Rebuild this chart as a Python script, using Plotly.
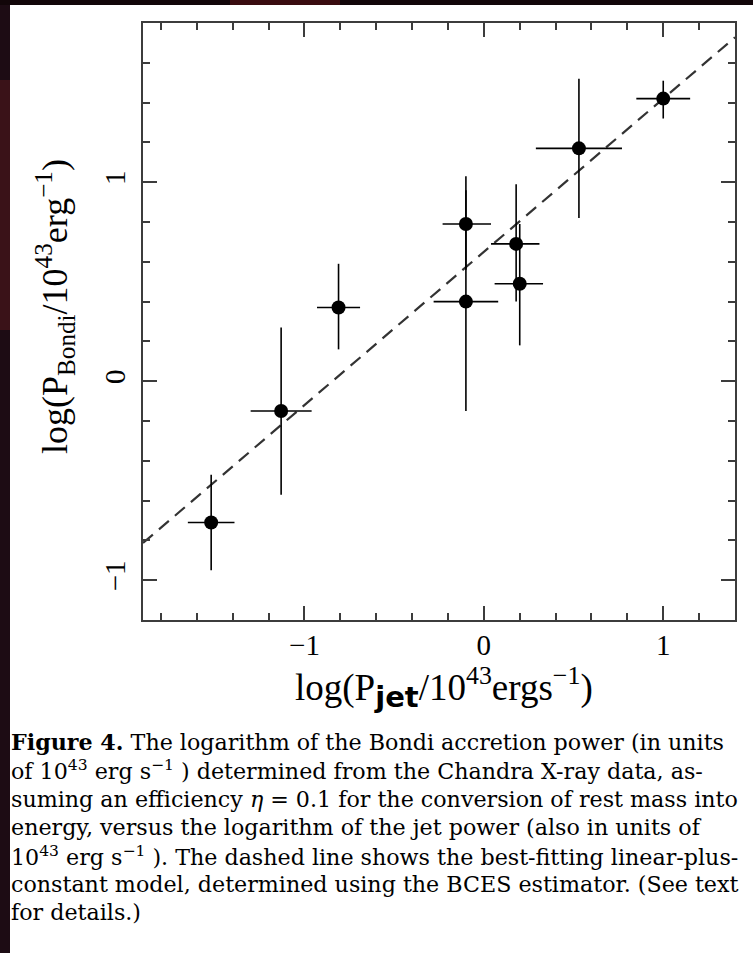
import plotly.graph_objects as go

# ---- data ----
log_pjet = [-1.52, -1.13, -0.81, -0.10, -0.10, 0.18, 0.20, 0.53, 1.00]
log_pbondi = [-0.71, -0.15, 0.37, 0.40, 0.79, 0.69, 0.49, 1.17, 1.42]
pjet_err_minus = [0.13, 0.17, 0.12, 0.18, 0.13, 0.14, 0.14, 0.24, 0.15]
pjet_err_plus = [0.13, 0.17, 0.12, 0.18, 0.14, 0.13, 0.13, 0.24, 0.15]
pbondi_err_minus = [0.24, 0.42, 0.21, 0.55, 0.23, 0.29, 0.31, 0.35, 0.10]
pbondi_err_plus = [0.24, 0.42, 0.22, 0.56, 0.24, 0.30, 0.30, 0.35, 0.09]

fit_intercept = 0.65
fit_slope = 0.77

x_range = [-1.9, 1.4]
y_range = [-1.2, 1.8]
x_tick_vals = [-1, 0, 1]
y_tick_vals = [-1, 0, 1]

x_title = ("log(P<sub><span style=\"font-family:DejaVu Sans;font-weight:bold;font-size:29px\">jet</span></sub>"
           "/10<sup>43</sup>ergs<sup>\u22121</sup>)")
y_title = "log(P<sub>Bondi</sub>/10<sup>43</sup>erg<sup>\u22121</sup>)"

caption_lines = [
    "<b>Figure 4.</b> The logarithm of the Bondi accretion power (in units",
    "of 10<sup>43</sup> erg s<sup>\u22121</sup> ) determined from the Chandra X-ray data, as-",
    "suming an efficiency <i>\u03b7</i> = 0.1 for the conversion of rest mass into",
    "energy, versus the logarithm of the jet power (also in units of",
    "10<sup>43</sup> erg s<sup>\u22121</sup> ). The dashed line shows the best-fitting linear-plus-",
    "constant model, determined using the BCES estimator. (See text",
    "for details.)",
]

# ---- geometry (pixels) ----
W, H = 753, 953
L, R, T, B = 143, 735, 23, 620
PW, PH = R - L, B - T


def px_x(px):
    return (px - L) / PW


def px_y(py):
    return (B - py) / PH


SERIF = "Liberation Serif, Times New Roman, serif"
CAPFONT = "DejaVu Serif, serif"
INK = "#000000"
AXC = "#3c3c3c"

fig = go.Figure()

fit_x = x_range
fit_y = [fit_intercept + fit_slope * v for v in fit_x]
fig.add_trace(go.Scatter(
    x=fit_x, y=fit_y, mode="lines",
    line=dict(color="#333333", width=2.2, dash="13px,8px"),
    hoverinfo="skip", showlegend=False,
))

fig.add_trace(go.Scatter(
    x=log_pjet, y=log_pbondi, mode="markers",
    marker=dict(color=INK, size=14),
    error_x=dict(type="data", symmetric=False, array=pjet_err_plus,
                 arrayminus=pjet_err_minus, color=INK, thickness=1.6, width=0),
    error_y=dict(type="data", symmetric=False, array=pbondi_err_plus,
                 arrayminus=pbondi_err_minus, color=INK, thickness=1.6, width=0),
    showlegend=False,
))

axis_common = dict(
    showgrid=False, zeroline=False, showline=True, linecolor=AXC, linewidth=1.6,
    mirror="ticks", ticks="inside", ticklen=14, tickwidth=1.6, tickcolor=AXC,
    tickfont=dict(family=SERIF, size=29, color=INK),
)

fig.update_xaxes(
    range=x_range, tickvals=x_tick_vals,
    minor=dict(ticks="inside", dtick=0.2, tick0=0, ticklen=7, tickwidth=1.6, tickcolor=AXC),
    ticklabelstandoff=-2,
    **axis_common,
)
fig.update_yaxes(
    range=y_range, tickvals=y_tick_vals, tickangle=-90,
    minor=dict(ticks="inside", dtick=0.2, tick0=0, ticklen=7, tickwidth=1.6, tickcolor=AXC),
    ticklabelstandoff=5,
    **axis_common,
)

annotations = [
    dict(text=x_title, xref="paper", yref="paper", x=px_x(444), y=px_y(688),
         xanchor="center", yanchor="middle", showarrow=False,
         font=dict(family=SERIF, size=37, color=INK)),
    dict(text=y_title, xref="paper", yref="paper", x=px_x(55), y=px_y(307),
         xanchor="center", yanchor="middle", showarrow=False, textangle=-90,
         font=dict(family=SERIF, size=36, color=INK)),
]
y0 = 742
for i, line in enumerate(caption_lines):
    annotations.append(dict(
        text=line, xref="paper", yref="paper",
        x=px_x(9), y=px_y(y0 + i * 28.4), xanchor="left", yanchor="middle",
        showarrow=False, font=dict(family=CAPFONT, size=22.2, color=INK), align="left",
    ))

shapes = [
    dict(type="rect", xref="paper", yref="paper", x0=px_x(0), x1=px_x(10),
         y0=px_y(H), y1=px_y(0), fillcolor="#1d0c14", line=dict(width=0), layer="above"),
    dict(type="rect", xref="paper", yref="paper", x0=px_x(0), x1=px_x(10),
         y0=px_y(330), y1=px_y(80), fillcolor="#3a1218", line=dict(width=0), layer="above"),
    dict(type="rect", xref="paper", yref="paper", x0=px_x(0), x1=px_x(W),
         y0=px_y(5), y1=px_y(0), fillcolor="#120609", line=dict(width=0), layer="above"),
    dict(type="rect", xref="paper", yref="paper", x0=px_x(230), x1=px_x(340),
         y0=px_y(5), y1=px_y(0), fillcolor="#3a0c10", line=dict(width=0), layer="above"),
]

fig.update_layout(
    width=W, height=H, autosize=False,
    margin=dict(l=L, r=W - R, t=T, b=H - B, pad=0),
    paper_bgcolor="white", plot_bgcolor="white",
    font=dict(family=SERIF, color=INK),
    annotations=annotations, shapes=shapes,
    showlegend=False,
)

fig.write_html("out.html", config={"displayModeBar": False},
               post_script="document.body.style.margin='0';")
